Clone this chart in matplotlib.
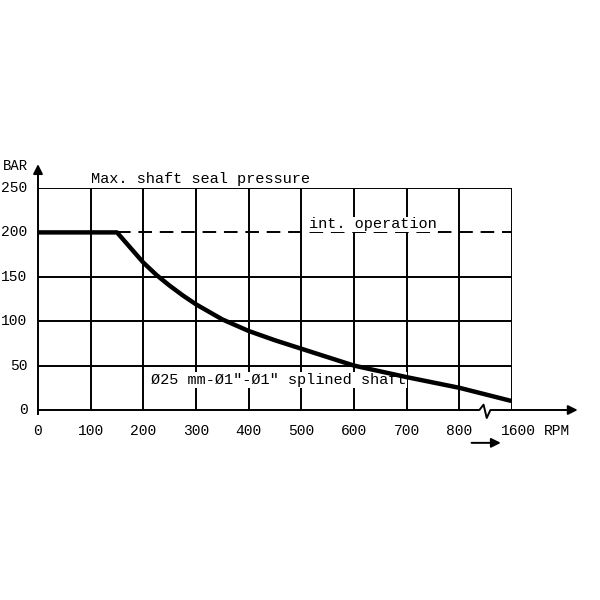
import matplotlib.pyplot as plt

# display position 900 stands for 1600 rpm (broken axis)
rpm_pos = [0, 150, 175, 200, 225, 250, 275, 300, 350, 400, 450, 500, 550, 600, 700, 800, 900]
bar = [200, 200, 183, 166, 152, 140, 129, 119, 102, 89, 78.5, 69, 59.5, 50, 37, 25, 10]
xticks = [0, 100, 200, 300, 400, 500, 600, 700, 800]
xtick_labels = ['0', '100', '200', '300', '400', '500', '600', '700', '800']
yticks = [0, 50, 100, 150, 200, 250]

font = 'Liberation Mono'
fig = plt.figure(figsize=(6, 6), dpi=100)
ax = fig.add_axes([38 / 600, 190 / 600, 474 / 600, 222 / 600])
ax.set_xlim(0, 900)
ax.set_ylim(0, 250)
ax.axis('off')

lw = 1.4
for x in xticks[1:] + [900]:
    ax.plot([x, x], [0, 250], color='black', lw=lw, zorder=1)
for y in yticks[1:]:
    if y == 200:
        continue
    ax.plot([0, 900], [y, y], color='black', lw=lw, zorder=1)
ax.plot([150, 900], [200, 200], color='black', lw=lw, dashes=(7, 4), zorder=1)

# axes with arrows
ax.plot([0, 0], [-4, 252], color='black', lw=lw, clip_on=False)
ax.annotate('', xy=(0, 280), xytext=(0, 250), xycoords='data',
            arrowprops=dict(arrowstyle='-|>', color='black', lw=lw, mutation_scale=14), annotation_clip=False)
ax.plot([0, 838, 846, 852, 859, 900, 1000], [0, 0, 6, -9, 0, 0, 0], color='black', lw=lw, clip_on=False)
ax.annotate('', xy=(1030, 0), xytext=(995, 0),
            arrowprops=dict(arrowstyle='-|>', color='black', lw=lw, mutation_scale=14), annotation_clip=False)
ax.annotate('', xy=(884, -37), xytext=(818, -37),
            arrowprops=dict(arrowstyle='-|>', color='black', lw=lw, mutation_scale=14), annotation_clip=False)

for x, lab in zip(xticks, xtick_labels):
    ax.text(x, -24, lab, family=font, fontsize=10.5, ha='center', va='center')
ax.text(912, -24, '1600', family=font, fontsize=10.5, ha='center', va='center')
ax.text(960, -24, 'RPM', family=font, fontsize=10.5, ha='left', va='center')
for y in yticks:
    ax.text(-20, y, str(y), family=font, fontsize=10.5, ha='right', va='center')
ax.text(-66, 275, 'BAR', family=font, fontsize=10, ha='left', va='center')

box = dict(facecolor='white', edgecolor='none', pad=0.5)
ax.text(100, 260, 'Max. shaft seal pressure', family=font, fontsize=11, ha='left', va='center')
ax.text(515, 209, 'int. operation', family=font, fontsize=11, ha='left', va='center', bbox=box, zorder=2)
ax.text(214, 34, 'Ø25 mm-Ø1"-Ø1" splined shaft', family=font, fontsize=11, ha='left', va='center',
        bbox=box, zorder=2)

ax.plot(rpm_pos, bar, color='black', lw=3.2, zorder=3, solid_capstyle='butt', solid_joinstyle='round')

fig.savefig('out.png', dpi=100)
